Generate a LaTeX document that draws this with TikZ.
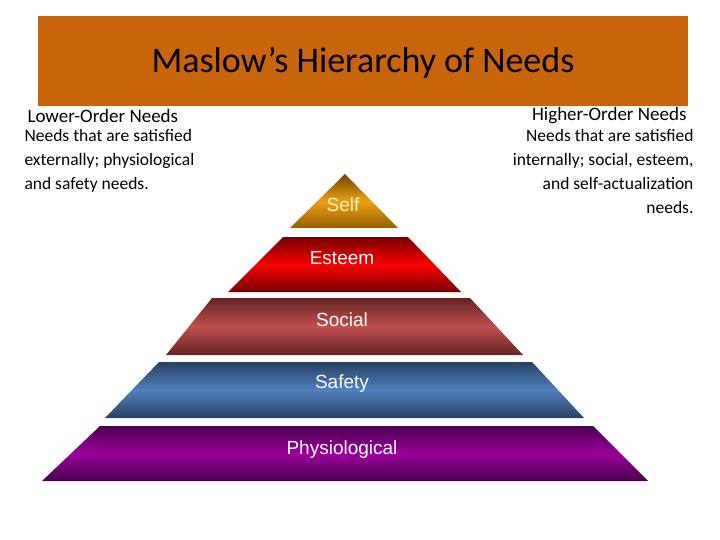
\documentclass[tikz,border=0pt]{standalone}
\usepackage{fontspec}
\setmainfont{Carlito}
\newfontfamily\arialf{Liberation Sans}
\begin{document}
\begin{tikzpicture}[x=1pt,y=-1pt,
  tier/.style={font=\arialf\fontsize{19}{19}\selectfont,text=white},
  sidehead/.style={font=\fontsize{19}{20}\selectfont},
  sidebody/.style={font=\fontsize{17.5}{24}\selectfont}]
\useasboundingbox (0,0) rectangle (720,540);
\fill[white] (0,0) rectangle (720,540);
\fill[color={rgb,255:red,200;green,100;blue,10}] (38,16) rectangle (688,106);
\node (title) at (363,63) {\fontsize{36}{36}\selectfont Maslow’s Hierarchy of Needs};
\node[sidehead,anchor=west] (lh) at (24,116) {Lower-Order Needs};
\node[sidebody,anchor=north west,align=left] (lb) at (21,126) {Needs that are satisfied\\externally; physiological\\and safety needs.};
\node[sidehead,anchor=east] (rh) at (690,116) {Higher-Order Needs};
\node[sidebody,anchor=north east,align=right] (rb) at (697,126) {Needs that are satisfied\\internally; social, esteem,\\and self-actualization\\needs.};
% tiers
\shade[top color={rgb,255:red,110;green,70;blue,0},bottom color={rgb,255:red,150;green,95;blue,0},middle color={rgb,255:red,235;green,160;blue,20}] (345,174) -- (398,228) -- (290,228) -- cycle;
\shade[top color={rgb,255:red,120;green,0;blue,0},bottom color={rgb,255:red,120;green,0;blue,0},middle color={rgb,255:red,250;green,0;blue,0}] (283,237) -- (408,237) -- (461,292) -- (228,292) -- cycle;
\shade[top color={rgb,255:red,100;green,35;blue,35},bottom color={rgb,255:red,100;green,35;blue,35},middle color={rgb,255:red,192;green,80;blue,77}] (212,298) -- (470,298) -- (523,355) -- (166,355) -- cycle;
\shade[top color={rgb,255:red,40;green,65;blue,100},bottom color={rgb,255:red,40;green,65;blue,100},middle color={rgb,255:red,79;green,129;blue,189}] (159,362) -- (532,362) -- (584,418) -- (105,418) -- cycle;
\shade[top color={rgb,255:red,75;green,0;blue,80},bottom color={rgb,255:red,75;green,0;blue,80},middle color={rgb,255:red,155;green,0;blue,155}] (100,426) -- (593,426) -- (648,481) -- (42,481) -- cycle;
\node[tier,text={rgb,255:red,255;green,240;blue,190}] (self) at (343,205) {Self};
\node[tier] (esteem) at (342,258) {Esteem};
\node[tier] (social) at (342,320) {Social};
\node[tier] (safety) at (342,384) {Safety};
\node[tier] (phys) at (342,450) {Physiological};
\end{tikzpicture}
\end{document}
